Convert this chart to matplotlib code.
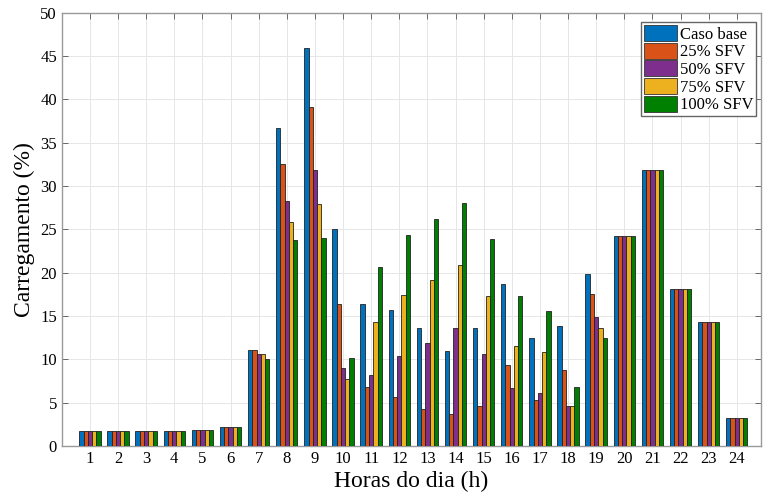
import numpy as np
import matplotlib
matplotlib.use("Agg")
import matplotlib.pyplot as plt

plt.rcParams['font.family'] = ['Liberation Serif', 'DejaVu Serif']

horas = list(range(1, 25))

caso_base = [1.75, 1.7, 1.7, 1.7, 1.8, 2.15, 11.1, 36.7, 45.9, 25.0, 16.4, 15.7,
             13.6, 11.0, 13.6, 18.7, 12.45, 13.85, 19.9, 24.2, 31.9, 18.15, 14.3, 3.2]
sfv_25 = [1.75, 1.7, 1.7, 1.7, 1.8, 2.15, 11.1, 32.6, 39.1, 16.4, 6.8, 5.6,
          4.3, 3.65, 4.55, 9.3, 5.3, 8.7, 17.5, 24.2, 31.9, 18.15, 14.3, 3.2]
sfv_50 = [1.75, 1.7, 1.7, 1.7, 1.8, 2.15, 10.55, 28.3, 31.9, 9.0, 8.2, 10.4,
          11.9, 13.6, 10.6, 6.65, 6.15, 4.55, 14.9, 24.2, 31.9, 18.15, 14.3, 3.2]
sfv_75 = [1.75, 1.7, 1.7, 1.7, 1.8, 2.15, 10.55, 25.8, 27.9, 7.7, 14.35, 17.4,
          19.1, 20.9, 17.3, 11.55, 10.8, 4.6, 13.55, 24.2, 31.9, 18.15, 14.3, 3.2]
sfv_100 = [1.75, 1.7, 1.7, 1.7, 1.8, 2.15, 10.05, 23.8, 24.0, 10.2, 20.6, 24.4,
           26.2, 28.0, 23.9, 17.3, 15.55, 6.85, 12.5, 24.2, 31.9, 18.15, 14.3, 3.2]

series = [caso_base, sfv_25, sfv_50, sfv_75, sfv_100]
nomes = ['Caso base', '25% SFV', '50% SFV', '75% SFV', '100% SFV']
cores = ['#0072BD', '#D95319', '#7E2F8E', '#EDB120', '#008000']

fig = plt.figure(figsize=(7.63, 4.97), dpi=100)
ax = fig.add_axes([0.081, 0.103, 0.916, 0.871])

x = np.array(horas)
largura = 0.152
for i, (vals, nome, cor) in enumerate(zip(series, nomes, cores)):
    desloc = (i - 2) * largura
    ax.bar(x + desloc, vals, largura, color=cor, edgecolor='#222222',
           linewidth=0.6, label=nome, zorder=3)

ax.set_xlim(0, 24.85)
ax.set_ylim(0, 50)
ax.set_xticks(horas)
ax.set_yticks(range(0, 51, 5))
ax.tick_params(direction='in', top=True, right=True, labelsize=12,
               length=4, color='#555555', width=0.6)
ax.grid(True, color='#e6e6e6', linewidth=0.7, zorder=0)
for s in ax.spines.values():
    s.set_color('#999999')
    s.set_linewidth(1.0)

ax.set_xlabel('Horas do dia (h)', fontsize=17, labelpad=3)
ax.set_ylabel('Carregamento (%)', fontsize=17, labelpad=4)

leg = ax.legend(loc='upper right', bbox_to_anchor=(0.993, 0.978), fontsize=12,
                fancybox=False, framealpha=1, edgecolor='#666666', borderpad=0.15,
                handlelength=2.0, handleheight=1.1, handletextpad=0.15,
                labelspacing=0.0, borderaxespad=0.0)
for h in leg.legend_handles:
    h.set_edgecolor('#333333')

fig.savefig('out.png', dpi=100)
